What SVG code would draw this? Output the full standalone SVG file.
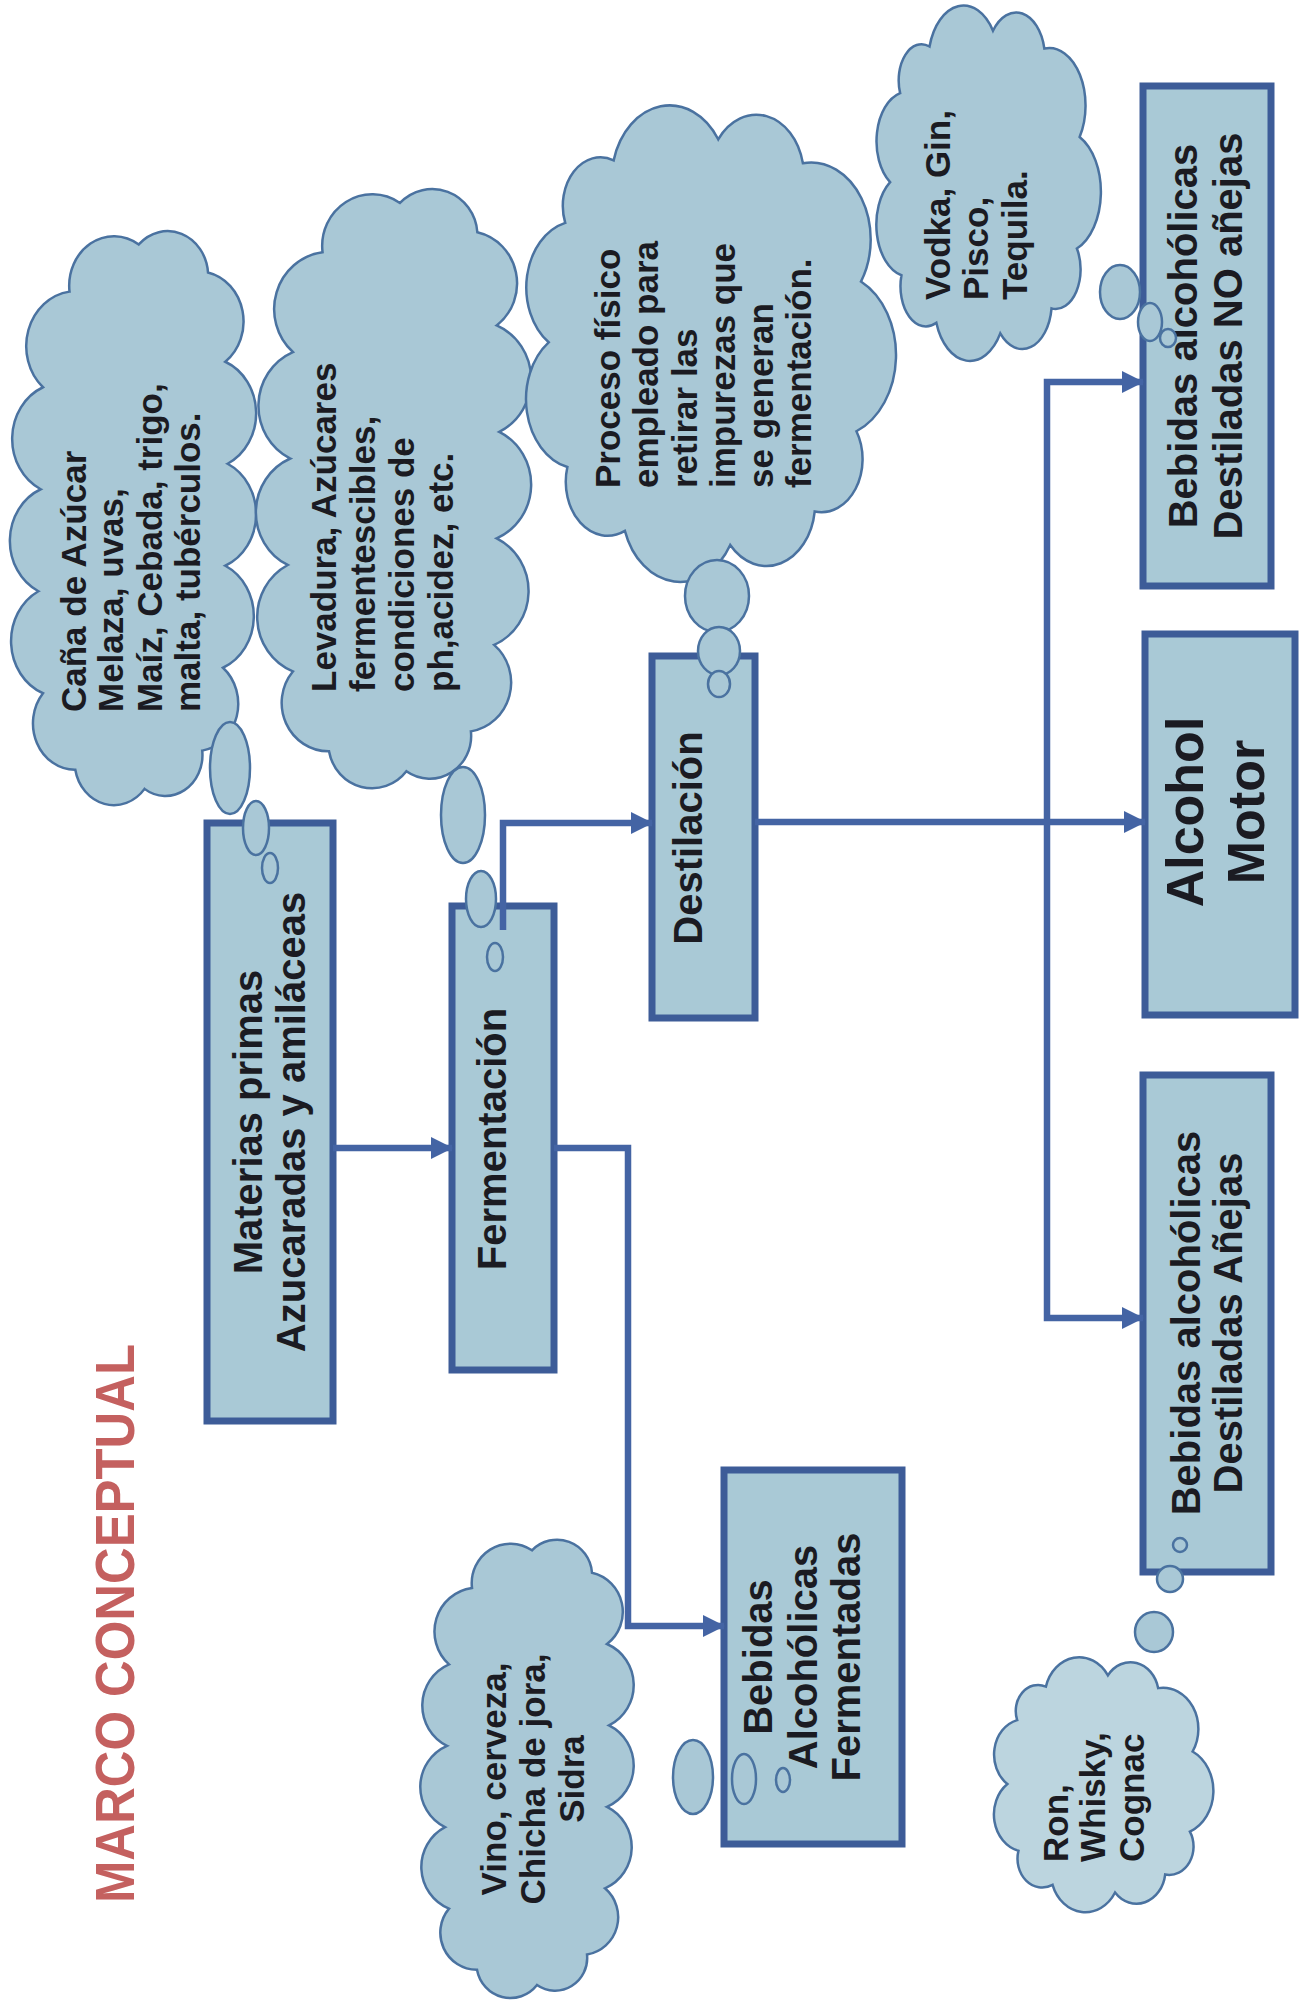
<svg xmlns="http://www.w3.org/2000/svg" xmlns:xlink="http://www.w3.org/1999/xlink" width="1299" height="2007" viewBox="0 0 1299 2007">
<defs>
<style>
.box{fill:#a9c9d6;stroke:#3d5c98;stroke-width:7}
.cloud{fill:#a9c8d6;stroke:#4a72a0;stroke-width:2.5}
.t{font-family:"Liberation Sans",Arial,sans-serif;font-weight:bold;fill:#1b1b22}
.bt{font-size:40px}
.ct{font-size:35px}
.link{fill:none;stroke:#4464a4;stroke-width:6.5}
</style>
<marker id="ah" markerUnits="userSpaceOnUse" markerWidth="24" markerHeight="24" refX="21" refY="12" orient="auto">
<path d="M0,1 L22,12 L0,23 z" fill="#4464a4"/>
</marker>
<path id="cloudShape" vector-effect="non-scaling-stroke" d="M178.6,76.1 A32.4,32.4 0 0 1 176.3,135 A20.9,20.9 0 0 1 155.1,166.6 A24.7,24.7 0 0 1 112.2,179.8 A29.6,29.6 0 0 1 58.7,174.2 A21.2,21.2 0 0 1 29.5,149.1 A27.5,27.5 0 0 1 20,100 A26.2,26.2 0 0 1 28.4,53 A19.1,19.1 0 0 1 53,28.4 A29.5,29.5 0 0 1 106.1,20.1 A24.2,24.2 0 0 1 149.1,29.5 A30.3,30.3 0 0 1 178.6,76.1 Z"/>
<path id="cloudTall" vector-effect="non-scaling-stroke" d="M165,40 A39.4,39.4 0 0 1 180,110 A44,44 0 0 1 182,190 A44,44 0 0 1 180,270 A44,44 0 0 1 178,350 A37.1,37.1 0 0 1 160,415 A32.1,32.1 0 0 1 110,445 A34,34 0 0 1 50,430 A36.4,36.4 0 0 1 22,370 A44.1,44.1 0 0 1 18,290 A44,44 0 0 1 20,210 A44,44 0 0 1 22,130 A43.1,43.1 0 0 1 45,55 A38.8,38.8 0 0 1 105,18 A35.1,35.1 0 0 1 165,40 Z"/>
</defs>
<rect width="1299" height="2007" fill="#ffffff"/>

<text id="title" class="t" transform="translate(134,1903) rotate(-90)" font-size="56" textLength="559" lengthAdjust="spacingAndGlyphs" style="fill:#c4605f">MARCO CONCEPTUAL</text>

<g id="n-materias">
<rect class="box" x="207" y="823" width="126" height="598"/>
<text class="t bt" transform="translate(270,1122) rotate(-90)" text-anchor="middle"><tspan x="0" y="-8">Materias primas</tspan><tspan x="0" y="35">Azucaradas y amiláceas</tspan></text>
</g>
<g id="n-fermentacion">
<rect class="box" x="452" y="906" width="102" height="464"/>
<text class="t bt" transform="translate(503,1139) rotate(-90)" text-anchor="middle" x="0" y="3">Fermentación</text>
</g>
<g id="n-destilacion">
<rect class="box" x="652" y="656" width="103" height="362"/>
<text class="t bt" transform="translate(703,838) rotate(-90)" text-anchor="middle" x="0" y="-1">Destilación</text>
</g>
<g id="n-fermentadas">
<rect class="box" x="724" y="1470" width="178" height="374"/>
<text class="t bt" transform="translate(813,1657) rotate(-90)" text-anchor="middle"><tspan x="0" y="-41">Bebidas</tspan><tspan x="0" y="4">Alcohólicas</tspan><tspan x="0" y="47">Fermentadas</tspan></text>
</g>
<g id="n-no-anejas">
<rect class="box" x="1143" y="86" width="128" height="500"/>
<text class="t bt" transform="translate(1207,336) rotate(-90)" text-anchor="middle"><tspan x="0" y="-10">Bebidas alcohólicas</tspan><tspan x="0" y="35">Destiladas NO añejas</tspan></text>
</g>
<g id="n-alcohol-motor">
<rect class="box" x="1145" y="634" width="150" height="381"/>
<text class="t" font-size="52" transform="translate(1220,812) rotate(-90)" text-anchor="middle"><tspan x="0" y="-17">Alcohol</tspan><tspan x="0" y="44">Motor</tspan></text>
</g>
<g id="n-anejas">
<rect class="box" x="1143" y="1075" width="128" height="497"/>
<text class="t bt" transform="translate(1207,1323) rotate(-90)" text-anchor="middle"><tspan x="0" y="-7">Bebidas alcohólicas</tspan><tspan x="0" y="35">Destiladas Añejas</tspan></text>
</g>

<g id="cloud-materias">
<use xlink:href="#cloudTall" class="cloud" transform="translate(17.6,221.5) scale(1.154,1.275)"/>
<ellipse class="cloud" cx="230" cy="768" rx="20" ry="46"/>
<ellipse class="cloud" cx="256" cy="828" rx="13" ry="27"/>
<ellipse class="cloud" cx="270" cy="868" rx="8" ry="15"/>
<text class="t ct" transform="translate(86,712) rotate(-90)"><tspan x="0" y="0">Caña de Azúcar</tspan><tspan x="0" y="37">Melaza, uvas,</tspan><tspan x="0" y="76">Maíz, Cebada, trigo,</tspan><tspan x="0" y="114">malta, tubérculos.</tspan></text>
</g>
<g id="cloud-levadura">
<use xlink:href="#cloudTall" class="cloud" transform="translate(264.5,179) scale(1.290,1.331)"/>
<ellipse class="cloud" cx="463" cy="815" rx="22" ry="48"/>
<ellipse class="cloud" cx="481" cy="899" rx="15" ry="28"/>
<ellipse class="cloud" cx="495" cy="957" rx="8" ry="14"/>
<text class="t ct" transform="translate(336,692) rotate(-90)"><tspan x="0" y="0">Levadura, Azúcares</tspan><tspan x="0" y="39">fermentescibles,</tspan><tspan x="0" y="78">condiciones de</tspan><tspan x="0" y="117">ph,acidez, etc.</tspan></text>
</g>
<g id="cloud-proceso">
<use xlink:href="#cloudShape" class="cloud" transform="translate(509.3,88.2) scale(1.969,2.541)"/>
<ellipse class="cloud" cx="717" cy="596" rx="32" ry="36"/>
<ellipse class="cloud" cx="719" cy="651" rx="21" ry="24"/>
<ellipse class="cloud" cx="719" cy="684" rx="11" ry="13"/>
<text class="t ct" transform="translate(620,488) rotate(-90)"><tspan x="0" y="0">Proceso físico</tspan><tspan x="0" y="38">empleado para</tspan><tspan x="0" y="77">retirar las</tspan><tspan x="0" y="115">impurezas que</tspan><tspan x="0" y="153">se generan</tspan><tspan x="0" y="191">fermentación.</tspan></text>
</g>
<g id="cloud-vodka">
<use xlink:href="#cloudShape" class="cloud" transform="translate(866.2,-7.3) scale(1.195,1.895)"/>
<ellipse class="cloud" cx="1120" cy="292" rx="20" ry="27"/>
<ellipse class="cloud" cx="1150" cy="322" rx="12" ry="19"/>
<ellipse class="cloud" cx="1168" cy="338" rx="8" ry="9"/>
<text class="t ct" transform="translate(950,300) rotate(-90)"><tspan x="0" y="0">Vodka, Gin,</tspan><tspan x="0" y="38">Pisco,</tspan><tspan x="0" y="77">Tequila.</tspan></text>
</g>
<g id="cloud-vino">
<use xlink:href="#cloudTall" class="cloud" transform="translate(427,1532) scale(1.0,1.018)"/>
<ellipse class="cloud" cx="693" cy="1777" rx="20" ry="37"/>
<ellipse class="cloud" cx="744" cy="1779" rx="12" ry="25"/>
<ellipse class="cloud" cx="783" cy="1780" rx="7" ry="12"/>
<text class="t ct" transform="translate(506,1779) rotate(-90)" text-anchor="middle"><tspan x="0" y="0">Vino, cerveza,</tspan><tspan x="0" y="39">Chicha de jora,</tspan><tspan x="0" y="78">Sidra</tspan></text>
</g>
<g id="cloud-ron">
<use xlink:href="#cloudShape" class="cloud" style="fill:#bcd5df" transform="translate(984,1648) scale(1.168,1.36)"/>
<ellipse class="cloud" cx="1154" cy="1632" rx="19" ry="20"/>
<ellipse class="cloud" cx="1170" cy="1579" rx="13" ry="13"/>
<ellipse class="cloud" cx="1180" cy="1545" rx="7" ry="7"/>
<text class="t ct" font-size="34" transform="translate(1068,1862) rotate(-90)"><tspan x="0" y="0">Ron,</tspan><tspan x="0" y="37">Whisky,</tspan><tspan x="0" y="76">Cognac</tspan></text>
</g>

<g id="connectors">
<path class="link" d="M333,1148 H452" marker-end="url(#ah)"/>
<path class="link" d="M503,930 V823 H652" marker-end="url(#ah)"/>
<path class="link" d="M554,1148 H628 V1626 H724" marker-end="url(#ah)"/>
<path class="link" d="M755,822 H1145" marker-end="url(#ah)"/>
<path class="link" d="M1047,822 V382 H1143" marker-end="url(#ah)"/>
<path class="link" d="M1047,822 V1318 H1143" marker-end="url(#ah)"/>
</g>
</svg>
